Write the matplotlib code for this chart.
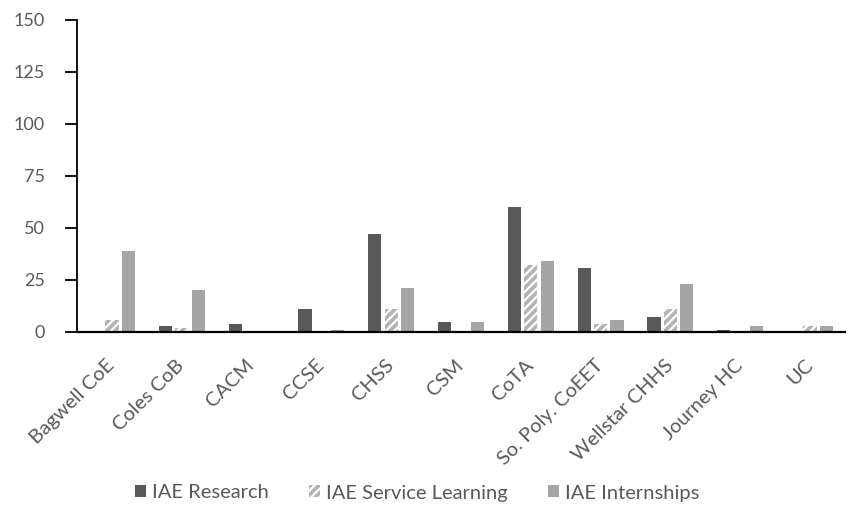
import matplotlib
matplotlib.use("Agg")
import matplotlib.pyplot as plt
import matplotlib.transforms as mtransforms
import numpy as np

categories = ["Bagwell CoE", "Coles CoB", "CACM", "CCSE", "CHSS", "CSM", "CoTA",
              "So. Poly. CoEET", "Wellstar CHHS", "Journey HC", "UC"]
research = [0, 3, 4, 11, 47, 5, 60, 31, 7, 1, 0]
service = [6, 2, 0, 0, 11, 0, 32, 4, 11, 0, 3]
internships = [39, 20, 0, 1, 21, 5, 34, 6, 23, 3, 3]
series_names = ["IAE Research", "IAE Service Learning", "IAE Internships"]
yticks = [0, 25, 50, 75, 100, 125, 150]

plt.rcParams['font.family'] = ['Lato', 'DejaVu Sans']
plt.rcParams['hatch.linewidth'] = 1.6

fig = plt.figure(figsize=(8.53, 5.07), dpi=100)
ax = fig.add_axes([77 / 853, 1 - 332 / 507, (845 - 77) / 853, (332 - 20) / 507])

x = np.arange(len(categories))
w = 0.19
off = 0.235
ax.bar(x - off, research, w, color='#595959', label=series_names[0])
ax.bar(x, service, w, facecolor='#b3b3b3', hatch='////', edgecolor='white', linewidth=0, label=series_names[1])
ax.bar(x + off, internships, w, color='#a5a5a5', label=series_names[2])

ax.set_xlim(-0.5, len(categories) - 0.5)
ax.set_ylim(0, 150)
ax.set_yticks(yticks)
ax.set_xticks(x)
ax.set_xticklabels(categories, rotation=45, ha='right', va='center', rotation_mode='anchor')
offset = mtransforms.ScaledTranslation(13 / 100, 0, fig.dpi_scale_trans)
for lbl in ax.get_xticklabels():
    lbl.set_transform(lbl.get_transform() + offset)
ax.tick_params(axis='x', length=0, pad=22, labelsize=14.5, colors='#595959')
ax.tick_params(axis='y', length=9, width=1.3, direction='out', labelsize=13, labelcolor='#595959', color='black', pad=14)
for s in ['top', 'right']:
    ax.spines[s].set_visible(False)
ax.spines['left'].set_color('black')
ax.spines['left'].set_linewidth(1.3)
ax.spines['bottom'].set_color('black')
ax.spines['bottom'].set_linewidth(1.6)

leg = fig.legend(loc='center', bbox_to_anchor=(417 / 853, 1 - 493 / 507), ncol=3, frameon=False,
                 fontsize=14.5, handlelength=0.55, handleheight=0.55, columnspacing=2.0, handletextpad=0.3)
for t in leg.get_texts():
    t.set_color('#595959')

fig.savefig('out.png', dpi=100)
